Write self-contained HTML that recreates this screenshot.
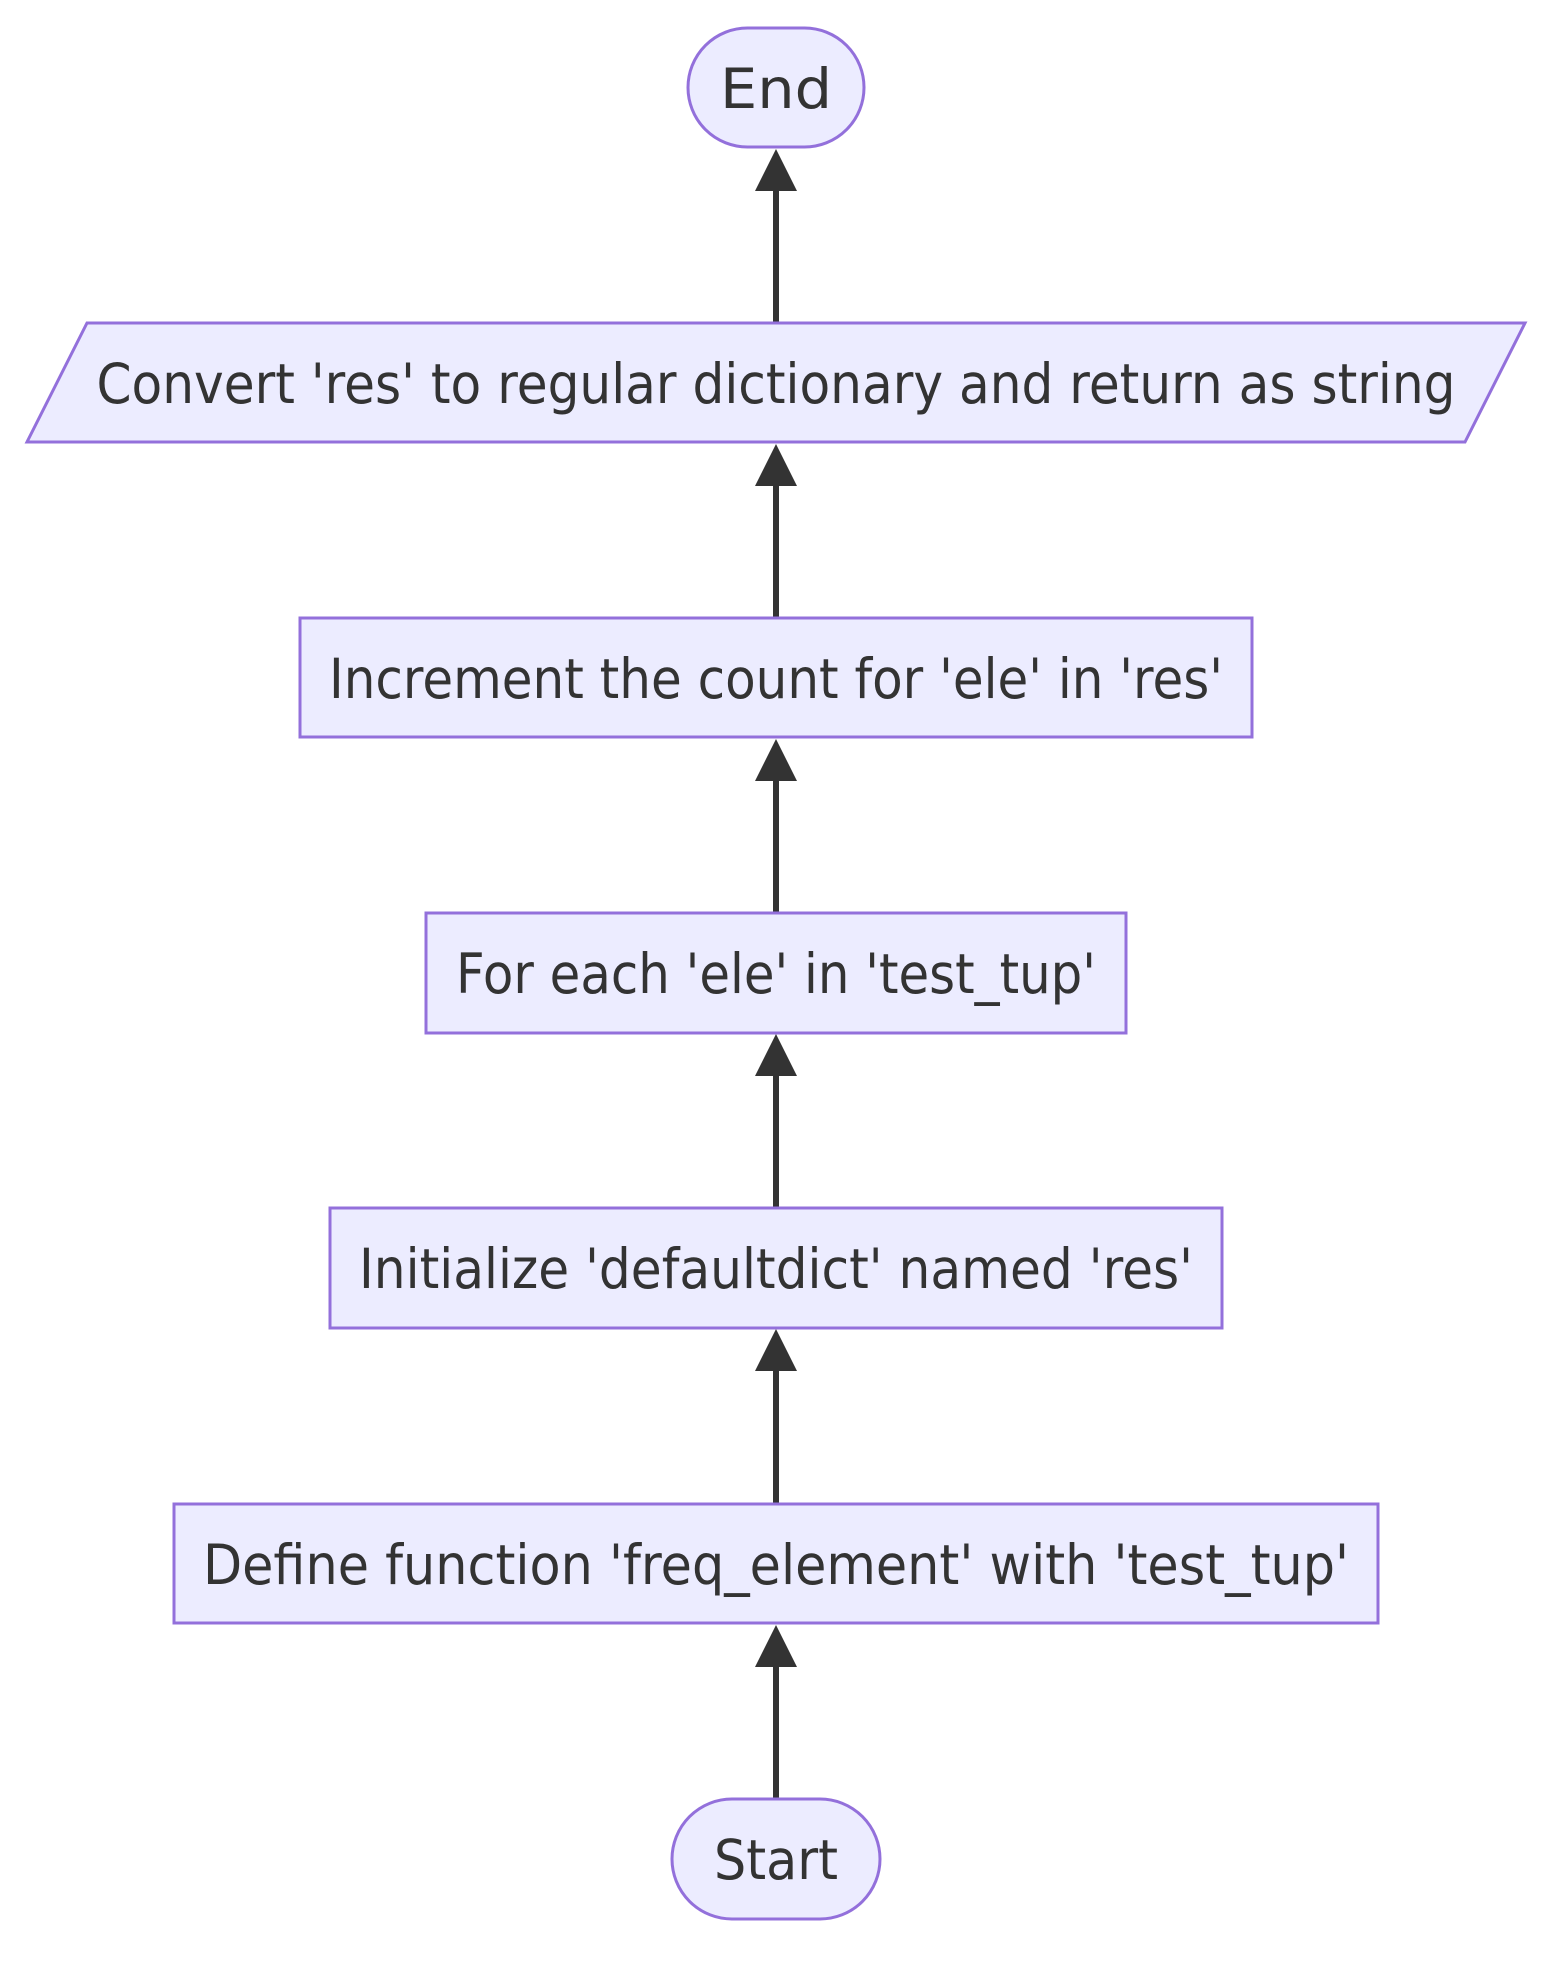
<!DOCTYPE html>
<html><head><meta charset="utf-8"><style>
html,body{margin:0;padding:0;background:#fff;}
svg{display:block;}
text{font-family:"DejaVu Sans","Liberation Sans",sans-serif;font-size:55px;fill:#333;}
</style></head><body>
<svg width="1568" height="1968" viewBox="0 0 1568 1968" xmlns="http://www.w3.org/2000/svg">
<g stroke="#333" stroke-width="6" fill="none">
<line x1="776" y1="323" x2="776" y2="185"/>
<line x1="776" y1="618" x2="776" y2="480"/>
<line x1="776" y1="913" x2="776" y2="775"/>
<line x1="776" y1="1208" x2="776" y2="1070"/>
<line x1="776" y1="1504" x2="776" y2="1366"/>
<line x1="776" y1="1799" x2="776" y2="1662"/>
</g>
<g fill="#333">
<polygon points="776,149 755,191 797,191"/>
<polygon points="776,444 755,486 797,486"/>
<polygon points="776,739 755,781 797,781"/>
<polygon points="776,1034 755,1076 797,1076"/>
<polygon points="776,1329 755,1371 797,1371"/>
<polygon points="776,1625 755,1667 797,1667"/>
</g>
<g fill="#ECECFF" stroke="#9370DB" stroke-width="3">
<rect x="688" y="28" width="176" height="119" rx="59.5"/>
<polygon points="87,323 1525,323 1465,442 27,442"/>
<rect x="300" y="618" width="952" height="119"/>
<rect x="426" y="913" width="700" height="120"/>
<rect x="330" y="1208" width="892" height="120"/>
<rect x="174" y="1504" width="1204" height="119"/>
<rect x="672" y="1799" width="208" height="120" rx="60"/>
</g>
<g text-anchor="middle">
<text x="776" y="108" textLength="112" lengthAdjust="spacingAndGlyphs">End</text>
<text x="776" y="403" textLength="1359" lengthAdjust="spacingAndGlyphs">Convert 'res' to regular dictionary and return as string</text>
<text x="776" y="698" textLength="894" lengthAdjust="spacingAndGlyphs">Increment the count for 'ele' in 'res'</text>
<text x="776" y="993" textLength="640" lengthAdjust="spacingAndGlyphs">For each 'ele' in 'test_tup'</text>
<text x="776" y="1288" textLength="834" lengthAdjust="spacingAndGlyphs">Initialize 'defaultdict' named 'res'</text>
<text x="776" y="1584" textLength="1146" lengthAdjust="spacingAndGlyphs">Define function 'freq_element' with 'test_tup'</text>
<text x="776" y="1879" textLength="124" lengthAdjust="spacingAndGlyphs">Start</text>
</g>
</svg>
</body></html>
